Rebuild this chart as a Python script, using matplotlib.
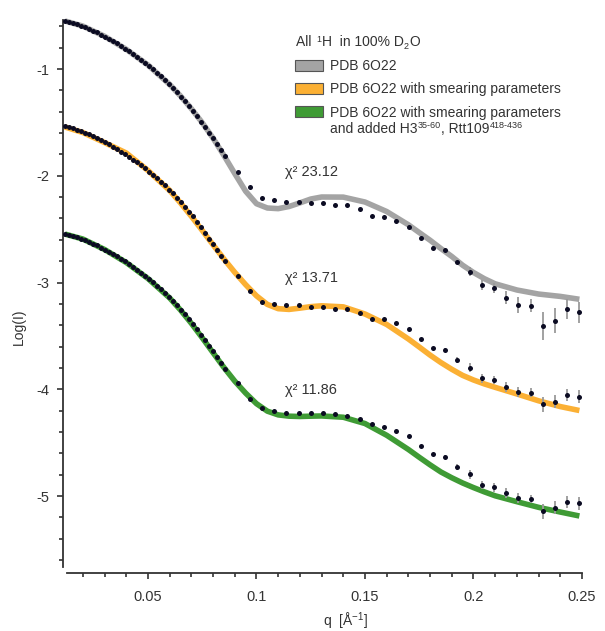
import numpy as np
import matplotlib
matplotlib.use('Agg')
import matplotlib.pyplot as plt
from matplotlib.patches import Rectangle
from matplotlib.ticker import MultipleLocator, FixedLocator, FixedFormatter

plt.rcParams['font.family'] = ['Liberation Sans', 'DejaVu Sans']
plt.rcParams['mathtext.fontset'] = 'custom'
plt.rcParams['mathtext.rm'] = 'Liberation Sans'
plt.rcParams['mathtext.it'] = 'Liberation Sans:italic'
plt.rcParams['axes.unicode_minus'] = False

# ---- measured data (q in 1/A, log I) ----
q_data = [0.0117, 0.0135, 0.0154, 0.0172, 0.0191, 0.0209, 0.0228, 0.0246, 0.0265, 0.0283,
          0.0302, 0.0320, 0.0339, 0.0357, 0.0376, 0.0394, 0.0413, 0.0431, 0.0450, 0.0468,
          0.0487, 0.0505, 0.0524, 0.0542, 0.0561, 0.0579, 0.0598, 0.0616, 0.0635, 0.0653,
          0.0672, 0.0690, 0.0709, 0.0727, 0.0746, 0.0764, 0.0783, 0.0801, 0.0820, 0.0838,
          0.0857,
          0.0913, 0.0969, 0.1026, 0.1082, 0.1138, 0.1194, 0.1251, 0.1307, 0.1363, 0.1419,
          0.1476, 0.1532, 0.1588, 0.1644, 0.1701, 0.1757, 0.1813, 0.1869, 0.1926, 0.1982,
          0.2038, 0.2094, 0.2151, 0.2207, 0.2263, 0.2319, 0.2376, 0.2432, 0.2488]

logI_pdb = [-0.546, -0.556, -0.566, -0.578, -0.593, -0.607, -0.623, -0.640, -0.658, -0.677,
            -0.696, -0.717, -0.738, -0.760, -0.784, -0.808, -0.833, -0.858, -0.885, -0.912,
            -0.941, -0.971, -1.001, -1.034, -1.067, -1.101, -1.139, -1.176, -1.215, -1.258,
            -1.300, -1.345, -1.390, -1.439, -1.492, -1.545, -1.598, -1.650, -1.704, -1.758,
            -1.813,
            -1.968, -2.108, -2.211, -2.227, -2.249, -2.243, -2.252, -2.252, -2.274, -2.274,
            -2.314, -2.374, -2.384, -2.424, -2.483, -2.586, -2.674, -2.696, -2.811, -2.899,
            -3.024, -3.049, -3.143, -3.211, -3.217, -3.405, -3.358, -3.251, -3.279]

logI_smear = [-1.536, -1.546, -1.556, -1.568, -1.583, -1.597, -1.613, -1.630, -1.648, -1.667,
              -1.686, -1.707, -1.728, -1.750, -1.774, -1.798, -1.823, -1.848, -1.875, -1.902,
              -1.931, -1.961, -1.991, -2.024, -2.057, -2.091, -2.129, -2.166, -2.205, -2.248,
              -2.290, -2.335, -2.380, -2.429, -2.482, -2.535, -2.588, -2.640, -2.694, -2.748,
              -2.803,
              -2.939, -3.080, -3.180, -3.201, -3.211, -3.211, -3.232, -3.232, -3.251, -3.248,
              -3.283, -3.345, -3.345, -3.382, -3.438, -3.532, -3.616, -3.632, -3.726, -3.798,
              -3.897, -3.913, -3.979, -4.029, -4.032, -4.141, -4.117, -4.054, -4.070]

logI_added = [-2.541, -2.551, -2.561, -2.573, -2.588, -2.602, -2.618, -2.635, -2.653, -2.672,
              -2.691, -2.712, -2.733, -2.755, -2.779, -2.803, -2.828, -2.853, -2.880, -2.907,
              -2.936, -2.966, -2.996, -3.029, -3.062, -3.096, -3.134, -3.171, -3.210, -3.253,
              -3.295, -3.340, -3.385, -3.434, -3.487, -3.540, -3.593, -3.645, -3.699, -3.753,
              -3.808,
              -3.944, -4.091, -4.178, -4.201, -4.225, -4.225, -4.225, -4.225, -4.235, -4.248,
              -4.281, -4.328, -4.351, -4.388, -4.438, -4.532, -4.609, -4.632, -4.726, -4.797,
              -4.897, -4.919, -4.975, -5.022, -5.028, -5.141, -5.110, -5.053, -5.068]

# error bars for the last (sparse) points
err_pdb = [0.01] * 16 + [0.015, 0.02, 0.02, 0.04, 0.05, 0.047, 0.062, 0.078, 0.062,
                         0.133, 0.117, 0.094, 0.10]
err_smear = [0.01] * 16 + [0.015, 0.02, 0.03, 0.04, 0.04, 0.04, 0.047, 0.047, 0.04,
                           0.07, 0.06, 0.055, 0.06]

# ---- model curves ----
q_fit = [0.0117, 0.02, 0.03, 0.04, 0.05, 0.06, 0.065, 0.07, 0.075, 0.08,
         0.085, 0.09, 0.095, 0.10, 0.105, 0.11, 0.115, 0.12, 0.125, 0.13,
         0.14, 0.15, 0.16, 0.17, 0.175, 0.18, 0.185, 0.19, 0.195, 0.20,
         0.205, 0.21, 0.22, 0.23, 0.24, 0.2488]
fit_pdb = [-0.550, -0.598, -0.694, -0.816, -0.963, -1.145, -1.253, -1.372, -1.503, -1.648,
           -1.810, -1.980, -2.145, -2.262, -2.302, -2.308, -2.288, -2.254, -2.218, -2.199,
           -2.200, -2.246, -2.335, -2.459, -2.532, -2.604, -2.682, -2.756, -2.838, -2.906,
           -2.964, -3.012, -3.070, -3.108, -3.130, -3.157]
fit_smear = [-1.543, -1.595, -1.689, -1.787, -1.951, -2.138, -2.255, -2.380, -2.512, -2.647,
             -2.780, -2.905, -3.020, -3.125, -3.205, -3.245, -3.252, -3.240, -3.226, -3.218,
             -3.228, -3.295, -3.393, -3.529, -3.604, -3.680, -3.750, -3.813, -3.870, -3.913,
             -3.950, -3.982, -4.044, -4.108, -4.162, -4.199]
fit_added = [-2.546, -2.593, -2.691, -2.813, -2.963, -3.145, -3.258, -3.383, -3.518, -3.658,
             -3.796, -3.924, -4.036, -4.135, -4.205, -4.240, -4.252, -4.255, -4.252, -4.250,
             -4.262, -4.321, -4.431, -4.564, -4.637, -4.708, -4.775, -4.829, -4.878, -4.921,
             -4.961, -4.998, -5.053, -5.106, -5.150, -5.187]

chi2 = ['23.12', '13.71', '11.86']
labels = ['PDB 6O22',
          'PDB 6O22 with smearing parameters',
          'PDB 6O22 with smearing parameters']
# pieces: (text, shift) with shift 1 = superscript, -1 = subscript, 0 = normal
title_pieces = [('All ', 0), ('1', 1), ('H  in 100% D', 0), ('2', -1), ('O', 0)]
label_tail = [('and added H3', 0), ('35-60', 1), (', Rtt109', 0), ('418-436', 1)]
colors = ['#a4a4a4', '#fbb034', '#3f9b35']

W, H = 605, 631
fig = plt.figure(figsize=(W / 100, H / 100), dpi=100)
renderer = fig.canvas.get_renderer()


def fx(px):
    return px / W


def fy(py):
    return 1 - py / H


def write_pieces(x_px, base, pieces):
    # write a line piece by piece so the raised/lowered numbers stay small
    for piece, shift in pieces:
        dy = {1: -4.5, -1: 2.5, 0: 0}[shift]
        t = fig.text(fx(x_px), fy(base + dy), piece, ha='left', va='baseline',
                     fontsize=6.5 if shift else 10, color='#333333')
        bb = t.get_window_extent(renderer)
        x_px = bb.x1 + (0.5 if shift else 0.3)


ax = fig.add_axes([fx(63), fy(573), fx(590) - fx(63), fy(18) - fy(573)])
ax.set_xlim(0.01083, 0.25369)
ax.set_ylim(-5.721, -0.5222)

q = np.array(q_data)
n_err = len(err_pdb)
dot_c = '#0b0b22'
for fit, dat, err, col in [(fit_pdb, logI_pdb, err_pdb, colors[0]),
                           (fit_smear, logI_smear, err_smear, colors[1]),
                           (fit_added, logI_added, err_smear, colors[2])]:
    ax.plot(q_fit, fit, color=col, lw=4.0, solid_capstyle='butt',
            solid_joinstyle='round', zorder=1)
    ax.errorbar(q[-n_err:], np.array(dat)[-n_err:], yerr=err, fmt='none',
                ecolor='#9a9a9a', elinewidth=1.3, capsize=0, zorder=2)
    ax.plot(q, dat, 'o', color=dot_c, ms=3.6, mew=0, zorder=3)

# axes styling
for s in ['top', 'right']:
    ax.spines[s].set_visible(False)
ax.spines['left'].set_bounds(-5.665, -0.541)
ax.spines['bottom'].set_bounds(0.01267, 0.25)
for s in ['left', 'bottom']:
    ax.spines[s].set_color('#333333')
    ax.spines[s].set_linewidth(1.3)

ax.xaxis.set_major_locator(FixedLocator([0.05, 0.1, 0.15, 0.2, 0.25]))
ax.xaxis.set_major_formatter(FixedFormatter(['0.05', '0.1', '0.15', '0.2', '0.25']))
ax.xaxis.set_minor_locator(MultipleLocator(0.01))
ax.yaxis.set_major_locator(FixedLocator([-5, -4, -3, -2, -1]))
ax.yaxis.set_major_formatter(FixedFormatter(['-5', '-4', '-3', '-2', '-1']))
ax.yaxis.set_minor_locator(MultipleLocator(0.2))
ax.tick_params(which='both', direction='out', color='#333333', width=1.2,
               labelsize=10.5, labelcolor='#333333')
ax.tick_params(which='major', length=4.5)
ax.tick_params(which='minor', length=3)
ax.tick_params(axis='x', which='major', pad=8)
ax.tick_params(axis='y', which='major', pad=5)

fig.text(fx(18.5), fy(327), 'Log(I)', rotation=90, ha='center', va='center',
         fontsize=10, color='#333333')
fig.text(fx(345), fy(621), 'q  [Å$^{\\mathrm{-1}}$]', ha='center', va='center',
         fontsize=10, color='#333333')

# chi-square notes
for txt, py in zip(chi2, [172, 278, 390]):
    fig.text(fx(285), fy(py), 'χ² ' + txt, ha='left', va='center',
             fontsize=10.5, color='#333333')

# legend drawn by hand
write_pieces(296.5, 46.5, title_pieces)
for lab, col, py in zip(labels, colors, [65, 88, 111.5]):
    fig.add_artist(Rectangle((fx(295), fy(py + 5.5)), 28 / W, 11 / H,
                             transform=fig.transFigure, facecolor=col,
                             edgecolor='#555555', lw=0.8))
    fig.text(fx(330), fy(py + 5), lab, ha='left', va='baseline',
             fontsize=10, color='#333333')
write_pieces(330.0, 111.5 + 5 + 16.5, label_tail)

fig.savefig('out.png', dpi=100)
